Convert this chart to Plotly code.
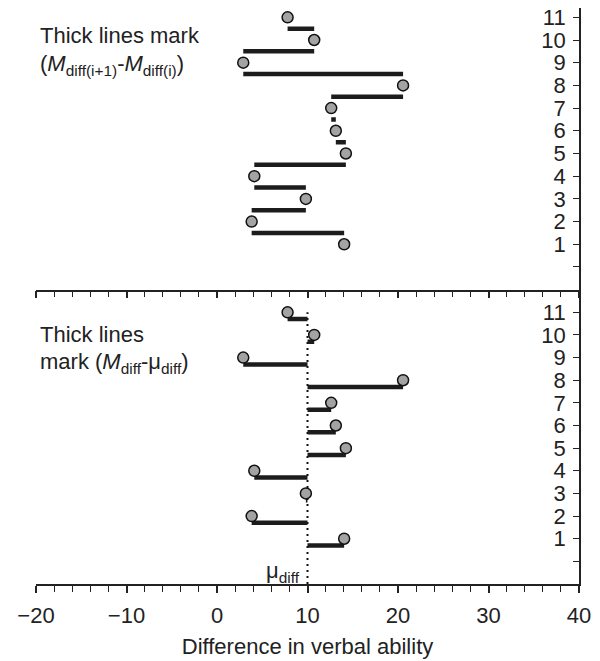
import plotly.graph_objects as go

# ---- data ----
subjects = [1, 2, 3, 4, 5, 6, 7, 8, 9, 10, 11]
m_diff = [14.05, 3.83, 9.82, 4.12, 14.24, 13.13, 12.62, 20.56, 2.90, 10.74, 7.80]
mu_diff = 10.0
x_ticks = [-20, -10, 0, 10, 20, 30, 40]
x_ticklabels = ["\u221220", "\u221210", "0", "10", "20", "30", "40"]
y_ticks = [0, 1, 2, 3, 4, 5, 6, 7, 8, 9, 10, 11]
y_ticklabels = [""] + [str(v) for v in range(1, 12)]

FONT = "Liberation Sans, Arial, sans-serif"
BAR_COLOR = "#1c1c1c"
DOT_FILL = "#a3a3a3"

fig = go.Figure()

# top panel: bars between consecutive subjects
bx, by = [], []
for i in range(len(subjects) - 1):
    bx += [m_diff[i], m_diff[i + 1], None]
    yy = (subjects[i] + subjects[i + 1]) / 2
    by += [yy, yy, None]
fig.add_trace(go.Scatter(x=bx, y=by, mode="lines", line=dict(color=BAR_COLOR, width=4.5),
                         xaxis="x", yaxis="y", hoverinfo="skip", showlegend=False))
fig.add_trace(go.Scatter(x=m_diff, y=subjects, mode="markers",
                         marker=dict(size=11, color=DOT_FILL, line=dict(color="#111", width=1.5)),
                         xaxis="x", yaxis="y", showlegend=False))

# bottom panel: bars from mu to each M
offset = 0.3
cx, cy = [], []
for s, m in zip(subjects, m_diff):
    cx += [mu_diff, m, None]
    cy += [s - offset, s - offset, None]
fig.add_trace(go.Scatter(x=[mu_diff, mu_diff], y=[-1, 11], mode="lines",
                         line=dict(color="#111", width=2, dash="2px,4px"),
                         xaxis="x2", yaxis="y2", hoverinfo="skip", showlegend=False))
fig.add_trace(go.Scatter(x=cx, y=cy, mode="lines", line=dict(color=BAR_COLOR, width=4.5),
                         xaxis="x2", yaxis="y2", hoverinfo="skip", showlegend=False))
fig.add_trace(go.Scatter(x=m_diff, y=subjects, mode="markers",
                         marker=dict(size=11, color=DOT_FILL, line=dict(color="#111", width=1.5)),
                         xaxis="x2", yaxis="y2", showlegend=False))

split = 0.511
xcommon = dict(range=[-20, 40], showgrid=False, zeroline=False, showline=True,
               linecolor="#222", linewidth=1.5, ticks="outside", ticklen=7, tickwidth=1.5,
               tickcolor="#222", tickvals=x_ticks, ticktext=x_ticklabels,
               ticklabeloverflow="allow", ticklabelstandoff=4,
               minor=dict(dtick=2, tick0=0, ticks="outside", ticklen=6, tickwidth=1, tickcolor="#222"),
               tickfont=dict(family=FONT, size=22, color="#222"))
ycommon = dict(showgrid=False, zeroline=False, showline=True, side="right",
               linecolor="#222", linewidth=1.5, ticks="inside", ticklen=6, tickwidth=1,
               tickcolor="#222", tickvals=y_ticks, ticktext=y_ticklabels,
               ticklabelposition="inside", ticklabeloverflow="allow", ticklabelstandoff=9,
               tickfont=dict(family=FONT, size=22, color="#222"))

fig.update_layout(
    width=600, height=661,
    margin=dict(l=36, r=21, t=5, b=77),
    paper_bgcolor="white", plot_bgcolor="white",
    xaxis=dict(domain=[0, 1], anchor="y", showticklabels=False, **xcommon),
    yaxis=dict(domain=[split, 1], anchor="x", range=[-1, 11.41], **ycommon),
    xaxis2=dict(domain=[0, 1], anchor="y2", showticklabels=True,
                title=dict(text="Difference in verbal ability", standoff=11,
                           font=dict(family=FONT, size=22, color="#222")), **xcommon),
    yaxis2=dict(domain=[0, split], anchor="x2", range=[-1, 12], **ycommon),
)

afont = dict(family=FONT, size=22, color="#222")
fig.add_annotation(x=-19.8, y=10.2, xref="x", yref="y", text="Thick lines mark",
                   showarrow=False, xanchor="left", yanchor="middle", font=afont)
fig.add_annotation(x=-19.8, y=8.9, xref="x", yref="y",
                   text="(<i>M</i><sub>diff(i+1)</sub>-<i>M</i><sub>diff(i)</sub>)",
                   showarrow=False, xanchor="left", yanchor="middle", font=afont)
fig.add_annotation(x=-19.8, y=10.0, xref="x2", yref="y2", text="Thick lines",
                   showarrow=False, xanchor="left", yanchor="middle", font=afont)
fig.add_annotation(x=-19.8, y=8.75, xref="x2", yref="y2",
                   text="mark (<i>M</i><sub>diff</sub>-\u03bc<sub>diff</sub>)",
                   showarrow=False, xanchor="left", yanchor="middle", font=afont)
fig.add_annotation(x=mu_diff - 0.6, y=-0.45, xref="x2", yref="y2",
                   text="\u03bc<sub>diff</sub>",
                   showarrow=False, xanchor="right", yanchor="middle", font=afont)

fig.write_html("out.html")
